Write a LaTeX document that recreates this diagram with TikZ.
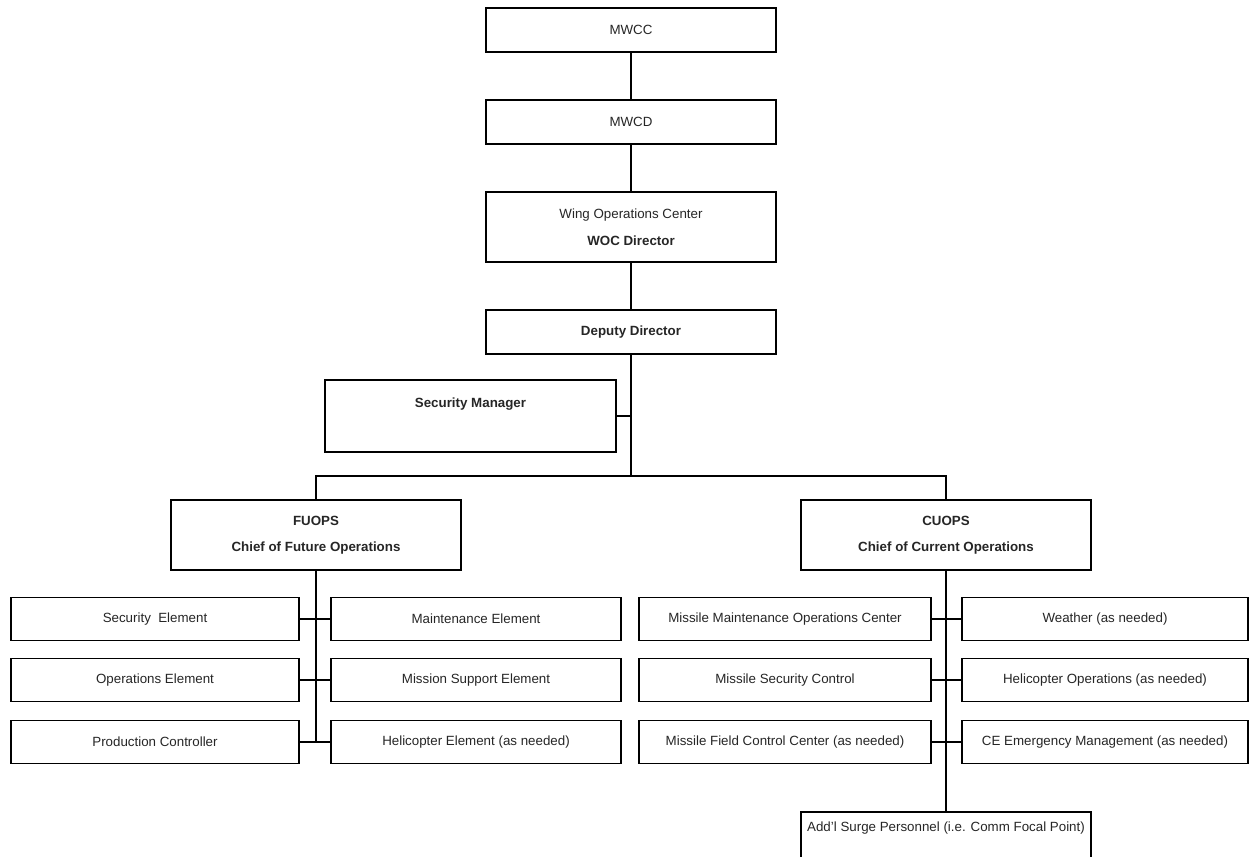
\documentclass[tikz,border=0pt]{standalone}
\usepackage{fontspec}
\setmainfont{Liberation Sans}
\begin{document}
\begin{tikzpicture}[x=0.75pt,y=-0.75pt,
  txt/.style={font=\fontsize{10}{12}\selectfont, text=black!85, align=center},
  box/.style={txt, draw=black, line width=1.2pt, fill=white, rectangle, inner sep=0pt},
  bx/.style 2 args={minimum width={#1*0.75pt}, minimum height={#2*0.75pt}},
  conn/.style={draw=black, line width=1.2pt}]
\useasboundingbox (0,0) rectangle (1250,857);
\clip (0,0) rectangle (1250,857);
% top chain
\node[box,bx={290}{44}] (mwcc) at (631,30) {MWCC};
\node[box,bx={290}{44}] (mwcd) at (631,122) {MWCD};
\node[box,bx={290}{70}] (woc) at (631,227) {Wing Operations Center\\[8pt]\textbf{WOC Director}};
\node[box,bx={290}{44}] (dep) at (631,332) {\textbf{Deputy Director}};
\node[box,bx={291}{72},label={[txt,yshift=9pt]center:\textbf{Security Manager}}] (sec) at (470.5,416) {};
\node[box,bx={290}{70}] (fuops) at (316,535) {\textbf{FUOPS}\\[7.5pt]\textbf{Chief of Future Operations}};
\node[box,bx={290}{70}] (cuops) at (946,535) {\textbf{CUOPS}\\[7.5pt]\textbf{Chief of Current Operations}};
% FUOPS children
\node[box,bx={288}{43}] (fl1) at (155,619) {Security\ \ Element};
\node[box,bx={288}{43}] (fl2) at (155,680) {Operations Element};
\node[box,bx={288}{43}] (fl3) at (155,742) {Production Controller};
\node[box,bx={290}{43}] (fr1) at (476,619) {Maintenance Element};
\node[box,bx={290}{43}] (fr2) at (476,680) {Mission Support Element};
\node[box,bx={290}{43}] (fr3) at (476,742) {Helicopter Element (as needed)};
% CUOPS children
\node[box,bx={292}{43}] (cl1) at (785,619) {Missile Maintenance Operations Center};
\node[box,bx={292}{43}] (cl2) at (785,680) {Missile Security Control};
\node[box,bx={292}{43}] (cl3) at (785,742) {Missile Field Control Center (as needed)};
\node[box,bx={286}{43}] (cr1) at (1105,619) {Weather (as needed)};
\node[box,bx={286}{43}] (cr2) at (1105,680) {Helicopter Operations (as needed)};
\node[box,bx={286}{43}] (cr3) at (1105,742) {CE Emergency Management (as needed)};
\node[box,bx={290}{72},label={[txt,yshift=15pt]center:Add'l Surge Personnel (i.e. Comm Focal Point)}] (addl) at (946,848) {};
% connectors
\coordinate (bar) at (631,476);
\draw[conn] (mwcc.south) -- (mwcd.north);
\draw[conn] (mwcd.south) -- (woc.north);
\draw[conn] (woc.south) -- (dep.north);
\draw[conn] (dep.south) -- (bar);
\draw[conn] (sec.east) -- (sec.east -| dep.south);
\draw[conn] (fuops.north) |- (bar) -| (cuops.north);
\draw[conn] (fuops.south) -- (fuops.south |- fl3.east);
\draw[conn] (fl1.east) -- (fr1.west);
\draw[conn] (fl2.east) -- (fr2.west);
\draw[conn] (fl3.east) -- (fr3.west);
\draw[conn] (cuops.south) -- (addl.north);
\draw[conn] (cl1.east) -- (cr1.west);
\draw[conn] (cl2.east) -- (cr2.west);
\draw[conn] (cl3.east) -- (cr3.west);
\end{tikzpicture}
\end{document}
